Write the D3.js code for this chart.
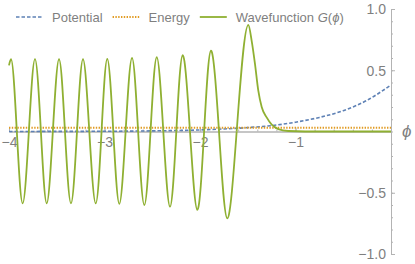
<!DOCTYPE html>
<html>
<head>
<meta charset="utf-8">
<script src="https://cdn.jsdelivr.net/npm/d3@7"></script>
<style>
  body { margin: 0; background: #fff; }
  svg text { font-family: "Liberation Sans", Arial, sans-serif; fill: #7f7f7f; }
</style>
</head>
<body>
<div id="chart"></div>
<script>
// values
// wavefunction: start hook, oscillating part (zero to zero), turning-point peak + decaying tail
var phiStart = [-4.0, -3.979, -3.918];
var waveStart = [0.54, 0.59, 0];

var phiOsc = [-3.918, -3.857, -3.792, -3.728, -3.666, -3.605, -3.541, -3.476,
              -3.414, -3.351, -3.288, -3.225, -3.159, -3.092, -3.031, -2.971, -2.908, -2.845,
              -2.779, -2.712, -2.648, -2.583, -2.518, -2.453, -2.384, -2.314, -2.248, -2.181,
              -2.105, -2.028, -1.957, -1.885, -1.801, -1.714, -1.616];
var waveOsc = [0, -0.586, 0, 0.59, 0, -0.586, 0, 0.59,
               0, -0.586, 0, 0.59, 0, -0.587, 0, 0.592, 0, -0.59,
               0, 0.60, 0, -0.60, 0, 0.606, 0, -0.614, 0, 0.624,
               0, -0.64, 0, 0.66, 0, -0.709, 0];

var phiTail = [-1.616, -1.494, -1.459, -1.424, -1.390, -1.354, -1.302, -1.249, -1.180, -1.075, -0.9, -0.5, 0.0];
var waveTail = [0, 0.87, 0.74, 0.55, 0.335, 0.2, 0.115, 0.056, 0.02, 0.004, 0, 0, 0];

var phiV = [-4, -3.5, -3, -2.5, -2, -1.75, -1.5, -1.25, -1, -0.75, -0.5, -0.25, 0];
var potential = [0.0, 0.001, 0.002, 0.005, 0.013, 0.021, 0.032, 0.048, 0.076, 0.115, 0.17, 0.255, 0.38];

var phiE = [-4, 0];
var energy = [0.031, 0.031];

var xMajor = [-4, -3, -2, -1];
var yMajor = [-1, -0.5, 0.5, 1];
var legendNames = ["Potential", "Energy", "Wavefunction"];

var W = 415, H = 264;
var svg = d3.select("#chart").append("svg")
    .attr("width", W).attr("height", H);

var x = d3.scaleLinear().domain([-4, 0]).range([9, 391]);
var y = d3.scaleLinear().domain([-1, 1]).range([254, 9]);

var axisColor = "#b3b3b3";

// x axis (minor + major ticks pointing up)
var gxm = svg.append("g").attr("transform", "translate(0," + y(0) + ")")
    .call(d3.axisBottom(x).tickValues(x.ticks(20)).tickSize(-2).tickSizeOuter(0).tickFormat(""));
var gx = svg.append("g").attr("transform", "translate(0," + y(0) + ")")
    .call(d3.axisBottom(x).tickValues(xMajor).tickSize(-4).tickSizeOuter(0)
      .tickPadding(6).tickFormat(d3.format("d")));

// y axis (ticks pointing right, labels on the left)
var gym = svg.append("g").attr("transform", "translate(" + x(0) + ",0)")
    .call(d3.axisLeft(y).tickValues(y.ticks(20)).tickSize(-2).tickSizeOuter(0).tickFormat(""));
var gy = svg.append("g").attr("transform", "translate(" + x(0) + ",0)")
    .call(d3.axisLeft(y).tickValues(yMajor).tickSize(-4).tickSizeOuter(0)
      .tickPadding(5).tickFormat(d3.format(".1f")));

[gxm, gx, gym, gy].forEach(function(g) {
  g.selectAll("path, line").attr("stroke", axisColor);
  g.selectAll("text").attr("font-size", 14).attr("fill", "#7f7f7f")
    .attr("font-family", "'Liberation Sans', Arial, sans-serif");
});
gy.selectAll("text").attr("dy", "0.35em");

svg.append("text")
    .attr("x", 402).attr("y", 137)
    .attr("font-size", 17).attr("font-style", "italic")
    .text("\u03d5");

// series
var line = d3.line().x(function(d) { return x(d[0]); }).y(function(d) { return y(d[1]); });

svg.append("path")
    .datum(d3.zip(phiV, potential))
    .attr("fill", "none").attr("stroke", "#5e81b5").attr("stroke-width", 1.6)
    .attr("stroke-dasharray", "3.5,2")
    .attr("d", line.curve(d3.curveMonotoneX));

svg.append("path")
    .datum(d3.zip(phiE, energy))
    .attr("fill", "none").attr("stroke", "#e19c24").attr("stroke-width", 2)
    .attr("stroke-dasharray", "1.4,1.4")
    .attr("d", line.curve(d3.curveLinear));

var green = "#8fb032";
[[phiStart, waveStart, d3.curveMonotoneX],
 [phiOsc, waveOsc, d3.curveNatural],
 [phiTail, waveTail, d3.curveMonotoneX]].forEach(function(s) {
  svg.append("path")
      .datum(d3.zip(s[0], s[1]))
      .attr("fill", "none").attr("stroke", green).attr("stroke-width", 1.8)
      .attr("d", line.curve(s[2]));
});

// legend
var styles = [
  {color: "#5e81b5", dash: "3.5,2", w: 1.6},
  {color: "#e19c24", dash: "1.4,1.4", w: 2},
  {color: green, dash: null, w: 1.8}
];
var lx = 16, ly = 17;
legendNames.forEach(function(name, i) {
  svg.append("line")
      .attr("x1", lx).attr("x2", lx + 27).attr("y1", ly).attr("y2", ly)
      .attr("stroke", styles[i].color).attr("stroke-width", styles[i].w)
      .attr("stroke-dasharray", styles[i].dash);
  var t = svg.append("text").attr("x", lx + 36).attr("y", ly + 4.5)
      .attr("font-size", 13).text(name);
  if (i === 2) {
    t.append("tspan").text(" ");
    t.append("tspan").attr("font-style", "italic").text("G");
    t.append("tspan").text("(");
    t.append("tspan").attr("font-style", "italic").text("\u03d5");
    t.append("tspan").text(")");
  }
  lx = lx + 36 + t.node().getComputedTextLength() + 10;
});
</script>
</body>
</html>
